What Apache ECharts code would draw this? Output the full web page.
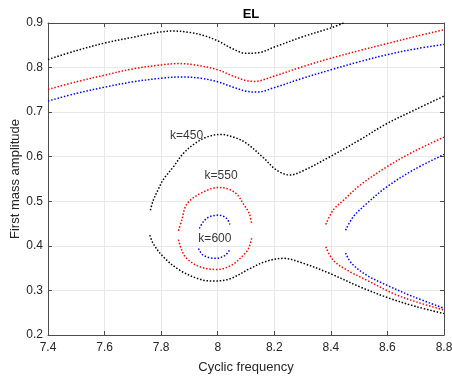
<!DOCTYPE html>
<html>
<head>
<meta charset="utf-8">
<script src="https://cdn.jsdelivr.net/npm/echarts@6/dist/echarts.min.js"></script>
<style>html,body{margin:0;padding:0;background:#fff;}#c{width:452px;height:377px;}</style>
</head>
<body>
<div id="c"></div>
<script>
// ---- data ----
const xTicks = [7.4, 7.6, 7.8, 8.0, 8.2, 8.4, 8.6, 8.8];
const yTicks = [0.2, 0.3, 0.4, 0.5, 0.6, 0.7, 0.8, 0.9];

// k=450 (black) upper branch
const k450Top = [[7.40,0.818],[7.50,0.838],[7.60,0.855],[7.70,0.868],[7.78,0.878],[7.84,0.882],[7.90,0.879],[7.95,0.872],[8.00,0.860],[8.05,0.843],[8.10,0.832],[8.15,0.834],[8.20,0.846],[8.30,0.869],[8.40,0.889],[8.445,0.900]];
// k=550 (red) upper branch
const k550Top = [[7.40,0.751],[7.50,0.768],[7.60,0.783],[7.70,0.797],[7.80,0.806],[7.86,0.809],[7.92,0.806],[8.00,0.795],[8.05,0.782],[8.10,0.771],[8.13,0.769],[8.20,0.781],[8.30,0.802],[8.40,0.821],[8.50,0.838],[8.60,0.854],[8.70,0.870],[8.80,0.885]];
// k=600 (blue) upper branch
const k600Top = [[7.40,0.725],[7.50,0.742],[7.60,0.756],[7.70,0.768],[7.80,0.776],[7.87,0.779],[7.94,0.776],[8.00,0.768],[8.05,0.757],[8.10,0.747],[8.14,0.745],[8.20,0.755],[8.30,0.776],[8.40,0.795],[8.50,0.813],[8.60,0.829],[8.70,0.842],[8.80,0.852]];

// k=450 (black) middle loop, upper and lower part
const k450MidUpper = [[7.762,0.480],[7.772,0.502],[7.790,0.527],[7.808,0.549],[7.843,0.577],[7.878,0.607],[7.920,0.630],[7.961,0.644],[8.010,0.650],[8.060,0.643],[8.102,0.630],[8.161,0.598],[8.208,0.570],[8.255,0.559],[8.300,0.568],[8.397,0.600],[8.500,0.637],[8.597,0.674],[8.700,0.706],[8.800,0.736]];
const k450MidLower = [[7.760,0.424],[7.772,0.405],[7.808,0.375],[7.867,0.345],[7.937,0.325],[7.984,0.321],[8.043,0.326],[8.114,0.349],[8.170,0.365],[8.232,0.372],[8.302,0.361],[8.397,0.338],[8.503,0.308],[8.609,0.282],[8.700,0.264],[8.800,0.248]];

// k=550 (red) closed loop and right branches
const k550LoopUpper = [[7.861,0.434],[7.873,0.458],[7.890,0.493],[7.937,0.517],[8.005,0.531],[8.060,0.520],[8.096,0.489],[8.112,0.472],[8.120,0.450]];
const k550LoopLower = [[7.861,0.414],[7.873,0.390],[7.890,0.372],[7.937,0.353],[7.996,0.347],[8.050,0.357],[8.102,0.387],[8.112,0.399],[8.120,0.417]];
const k550RightUpper = [[8.382,0.448],[8.408,0.480],[8.444,0.502],[8.503,0.536],[8.597,0.577],[8.691,0.611],[8.800,0.644]];
const k550RightLower = [[8.382,0.398],[8.408,0.368],[8.456,0.346],[8.527,0.323],[8.621,0.293],[8.703,0.274],[8.800,0.256]];

// k=600 (blue) closed loop and right branches
const k600LoopUpper = [[7.935,0.439],[7.949,0.454],[7.970,0.465],[8.005,0.469],[8.032,0.461],[8.043,0.448]];
const k600LoopLower = [[7.932,0.394],[7.949,0.379],[7.990,0.372],[8.025,0.378],[8.043,0.392]];
const k600RightUpper = [[8.452,0.435],[8.479,0.465],[8.527,0.495],[8.597,0.532],[8.691,0.570],[8.800,0.605]];
const k600RightLower = [[8.452,0.384],[8.473,0.361],[8.527,0.334],[8.597,0.312],[8.691,0.286],[8.800,0.260]];

// curve labels
const labels = [
  {text: 'k=450', pos: [7.890, 0.648]},
  {text: 'k=550', pos: [8.012, 0.557]},
  {text: 'k=600', pos: [7.990, 0.417]}
];

// ---- chart ----
const FONT = '"Liberation Sans", Arial, Helvetica, sans-serif';
const colors = {k450: '#000000', k550: '#ff0000', k600: '#0000ff'};

function dotted(data, color) {
  return {
    type: 'line', data: data, showSymbol: false, smooth: 0.35,
    lineStyle: {color: color, width: 1.5, type: [1.5, 1.8], cap: 'butt'},
    silent: true, clip: true, z: 3
  };
}

const series = [
  dotted(k450Top, colors.k450),
  dotted(k550Top, colors.k550),
  dotted(k600Top, colors.k600),
  dotted(k450MidUpper, colors.k450),
  dotted(k450MidLower, colors.k450),
  dotted(k550LoopUpper, colors.k550),
  dotted(k550LoopLower, colors.k550),
  dotted(k550RightUpper, colors.k550),
  dotted(k550RightLower, colors.k550),
  dotted(k600LoopUpper, colors.k600),
  dotted(k600LoopLower, colors.k600),
  dotted(k600RightUpper, colors.k600),
  dotted(k600RightLower, colors.k600),
  {
    type: 'scatter', symbolSize: 0, silent: true, z: 5,
    data: labels.map(l => ({value: l.pos, name: l.text})),
    label: {show: true, position: 'inside', formatter: p => p.name,
            color: '#000', fontSize: 12, fontFamily: FONT}
  }
];

const axisCol = '#4d4d4d';
const gridCol = '#e8e8e8';
const chart = echarts.init(document.getElementById('c'), null, {renderer: 'canvas'});
chart.setOption({
  animation: false,
  backgroundColor: '#fff',
  title: {text: 'EL', left: 246, textAlign: 'center', top: 3,
          textStyle: {fontSize: 13, fontWeight: 'bold', color: '#000', fontFamily: FONT}},
  grid: {left: 48, right: 8, top: 23, bottom: 42, containLabel: false, outerBoundsMode: 'none'},
  xAxis: [{
    type: 'value', min: xTicks[0], max: xTicks[xTicks.length - 1], interval: 0.2,
    name: 'Cyclic frequency', nameLocation: 'middle', nameGap: 26, nameMoveOverlap: false,
    nameTextStyle: {fontSize: 13, color: '#262626', fontFamily: FONT},
    axisLine: {show: true, lineStyle: {color: axisCol, width: 1}},
    axisTick: {show: true, inside: true, length: 4, lineStyle: {color: axisCol}},
    axisLabel: {color: '#262626', fontSize: 12, fontFamily: FONT, margin: 7,
                formatter: v => String(Math.round(v * 10) / 10)},
    splitLine: {show: true, lineStyle: {color: gridCol, width: 1}}
  }, {
    type: 'value', position: 'top', min: xTicks[0], max: xTicks[xTicks.length - 1], interval: 0.2,
    axisLine: {show: true, lineStyle: {color: axisCol, width: 1}},
    axisTick: {show: true, inside: true, length: 4, lineStyle: {color: axisCol}},
    axisLabel: {show: false}, splitLine: {show: false}
  }],
  yAxis: [{
    type: 'value', min: yTicks[0], max: yTicks[yTicks.length - 1], interval: 0.1,
    name: 'First mass amplitude', nameLocation: 'middle', nameGap: 26, nameMoveOverlap: false,
    nameTextStyle: {fontSize: 13, color: '#262626', fontFamily: FONT},
    axisLine: {show: true, lineStyle: {color: axisCol, width: 1}},
    axisTick: {show: true, inside: true, length: 4, lineStyle: {color: axisCol}},
    axisLabel: {color: '#262626', fontSize: 12, fontFamily: FONT, margin: 5,
                formatter: v => (Math.round(v * 10) / 10).toFixed(1)},
    splitLine: {show: true, lineStyle: {color: gridCol, width: 1}}
  }, {
    type: 'value', position: 'right', min: yTicks[0], max: yTicks[yTicks.length - 1], interval: 0.1,
    axisLine: {show: true, lineStyle: {color: axisCol, width: 1}},
    axisTick: {show: true, inside: true, length: 4, lineStyle: {color: axisCol}},
    axisLabel: {show: false}, splitLine: {show: false}
  }],
  series: series
});
</script>
</body>
</html>
